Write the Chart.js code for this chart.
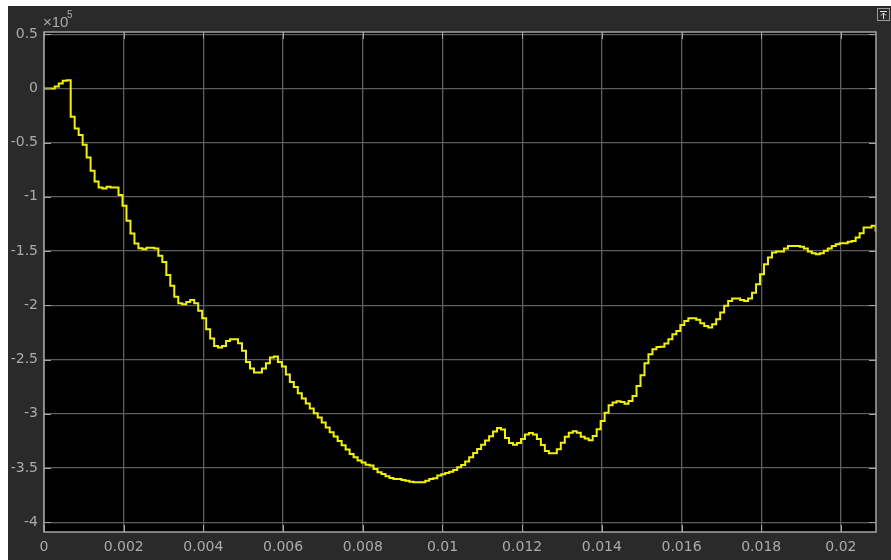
<!DOCTYPE html>
<html>
<head>
<meta charset="utf-8">
<script src="https://cdn.jsdelivr.net/npm/chart.js@4"></script>
<style>
html, body { margin: 0; padding: 0; background: #fff; }
canvas { display: block; }
</style>
</head>
<body>
<canvas id="scope" width="891" height="560"></canvas>
<script>
// scope trace, values in units of 1e5 (one value per 1e-4 s sample, zero-order hold)
const sampleTime = 1e-4;
const firstStep = 0.7e-4;

const values0to5ms = [
  0, 0, 0, 0.018, 0.045, 0.07, 0.075, -0.261, -0.369, -0.430,
  -0.520, -0.637, -0.760, -0.858, -0.913, -0.922, -0.907, -0.913, -0.913, -0.984,
  -1.082, -1.221, -1.338, -1.430, -1.473, -1.482, -1.470, -1.470, -1.476, -1.544,
  -1.60, -1.72, -1.82, -1.92, -1.98, -1.99, -1.97, -1.95, -1.98, -2.05,
  -2.119, -2.220, -2.306, -2.374, -2.390, -2.374, -2.328, -2.313, -2.313, -2.350
];
const values5to10ms = [
  -2.420, -2.522, -2.583, -2.620, -2.620, -2.583, -2.534, -2.482, -2.472, -2.522,
  -2.565, -2.639, -2.707, -2.752, -2.811, -2.860, -2.906, -2.952, -2.995, -3.035,
  -3.081, -3.127, -3.17, -3.21, -3.25, -3.29, -3.33, -3.37, -3.40, -3.43,
  -3.45, -3.47, -3.478, -3.509, -3.540, -3.555, -3.577, -3.592, -3.601, -3.601,
  -3.611, -3.617, -3.626, -3.632, -3.632, -3.632, -3.617, -3.601, -3.595, -3.570
];
const values10to15ms = [
  -3.558, -3.546, -3.534, -3.518, -3.493, -3.472, -3.441, -3.401, -3.361, -3.324,
  -3.285, -3.247, -3.207, -3.164, -3.131, -3.146, -3.223, -3.269, -3.285, -3.269,
  -3.232, -3.192, -3.177, -3.192, -3.232, -3.288, -3.343, -3.365, -3.365, -3.328,
  -3.266, -3.211, -3.174, -3.162, -3.174, -3.211, -3.229, -3.244, -3.205, -3.143,
  -3.067, -2.990, -2.922, -2.897, -2.885, -2.891, -2.907, -2.882, -2.836, -2.744
];
const values15to21ms = [
  -2.645, -2.534, -2.451, -2.405, -2.384, -2.381, -2.353, -2.313, -2.267, -2.236,
  -2.181, -2.144, -2.119, -2.119, -2.134, -2.165, -2.190, -2.205, -2.175, -2.128,
  -2.067, -2.005, -1.960, -1.938, -1.938, -1.950, -1.960, -1.938, -1.883, -1.805,
  -1.713, -1.621, -1.559, -1.513, -1.504, -1.504, -1.476, -1.452, -1.452, -1.452,
  -1.461, -1.476, -1.504, -1.520, -1.529, -1.520, -1.498, -1.476, -1.452, -1.437,
  -1.427, -1.427, -1.415, -1.406, -1.375, -1.335, -1.283, -1.283, -1.267, -1.32
];

const xTicks = [0, 0.002, 0.004, 0.006, 0.008, 0.01, 0.012, 0.014, 0.016, 0.018, 0.02];
const xTickLabels = ['0', '0.002', '0.004', '0.006', '0.008', '0.01', '0.012', '0.014', '0.016', '0.018', '0.02'];
const yTicks = [0.5, 0, -0.5, -1, -1.5, -2, -2.5, -3, -3.5, -4];
const yTickLabels = ['0.5', '0', '-0.5', '-1', '-1.5', '-2', '-2.5', '-3', '-3.5', '-4'];

const values = [...values0to5ms, ...values5to10ms, ...values10to15ms, ...values15to21ms];
const points = values.map((v, i) => ({
  x: i === 0 ? 0 : firstStep + (i - 1) * sampleTime,
  y: v
}));

const labelColor = '#ababab';
const frameColor = '#a4a4a4';

const scopeFrame = {
  id: 'scopeFrame',
  beforeDraw(chart) {
    const c = chart.ctx, a = chart.chartArea;
    c.save();
    c.fillStyle = '#ffffff';
    c.fillRect(0, 0, chart.width, chart.height);
    c.fillStyle = '#2a2a2a';
    c.fillRect(8, 6, chart.width - 8, chart.height - 6);
    c.fillStyle = '#000000';
    c.fillRect(a.left, a.top, a.right - a.left, a.bottom - a.top);
    c.restore();
  },
  afterDraw(chart) {
    const c = chart.ctx, a = chart.chartArea;
    const xs = chart.scales.x, ys = chart.scales.y;
    c.save();
    c.strokeStyle = frameColor;
    c.lineWidth = 1.5;
    c.strokeRect(a.left, a.top, a.right - a.left, a.bottom - a.top);
    // inward tick marks
    c.lineWidth = 1;
    c.beginPath();
    ys.ticks.forEach(t => {
      const py = Math.round(ys.getPixelForValue(t.value)) + 0.5;
      c.moveTo(a.left, py); c.lineTo(a.left + 7, py);
      c.moveTo(a.right - 7, py); c.lineTo(a.right, py);
    });
    xs.ticks.forEach(t => {
      const px = Math.round(xs.getPixelForValue(t.value)) + 0.5;
      c.moveTo(px, a.bottom); c.lineTo(px, a.bottom - 7);
      c.moveTo(px, a.top); c.lineTo(px, a.top + 7);
    });
    c.stroke();
    // exponent
    c.fillStyle = labelColor;
    c.textBaseline = 'alphabetic';
    c.font = '15px "Liberation Sans", Arial, sans-serif';
    c.fillText('\u00d710', 43, 27);
    c.font = '10px "Liberation Sans", Arial, sans-serif';
    c.fillText('5', 67, 18);
    // undock icon
    c.strokeStyle = '#9a9a9a';
    c.strokeRect(877.5, 8.5, 12, 12);
    c.strokeStyle = '#e0e0e0';
    c.beginPath();
    c.moveTo(880, 11.5); c.lineTo(887, 11.5);
    c.moveTo(883.5, 19); c.lineTo(883.5, 13);
    c.moveTo(881, 15.5); c.lineTo(883.5, 13); c.lineTo(886, 15.5);
    c.stroke();
    c.restore();
  }
};

new Chart(document.getElementById('scope'), {
  type: 'line',
  data: {
    datasets: [{
      data: points,
      borderColor: '#f2f200',
      borderWidth: 2,
      stepped: true,
      pointRadius: 0,
      fill: false
    }]
  },
  options: {
    responsive: false,
    animation: false,
    parsing: false,
    layout: { padding: { top: 32, right: 15, left: 0, bottom: 0 } },
    plugins: { legend: { display: false }, tooltip: { enabled: false } },
    scales: {
      x: {
        type: 'linear',
        min: 0,
        max: 0.02088,
        afterBuildTicks: s => { s.ticks = xTicks.map(v => ({ value: v })); },
        afterFit: s => { s.height = 28; },
        grid: { color: '#5e5e5e', lineWidth: 1.3, drawTicks: false },
        border: { display: false },
        ticks: {
          padding: 7,
          color: labelColor,
          maxRotation: 0,
          autoSkip: false,
          font: { family: '"DejaVu Sans"', size: 14 },
          callback: (v, i) => xTickLabels[i]
        }
      },
      y: {
        type: 'linear',
        min: -4.09,
        max: 0.52,
        afterBuildTicks: s => { s.ticks = yTicks.map(v => ({ value: v })); },
        afterFit: s => { s.width = 44; },
        grid: { color: '#5e5e5e', lineWidth: 1.3, drawTicks: false },
        border: { display: false },
        ticks: {
          padding: 6,
          color: labelColor,
          autoSkip: false,
          font: { family: '"DejaVu Sans"', size: 14 },
          callback: (v, i) => yTickLabels[i]
        }
      }
    }
  },
  plugins: [scopeFrame]
});
</script>
</body>
</html>
